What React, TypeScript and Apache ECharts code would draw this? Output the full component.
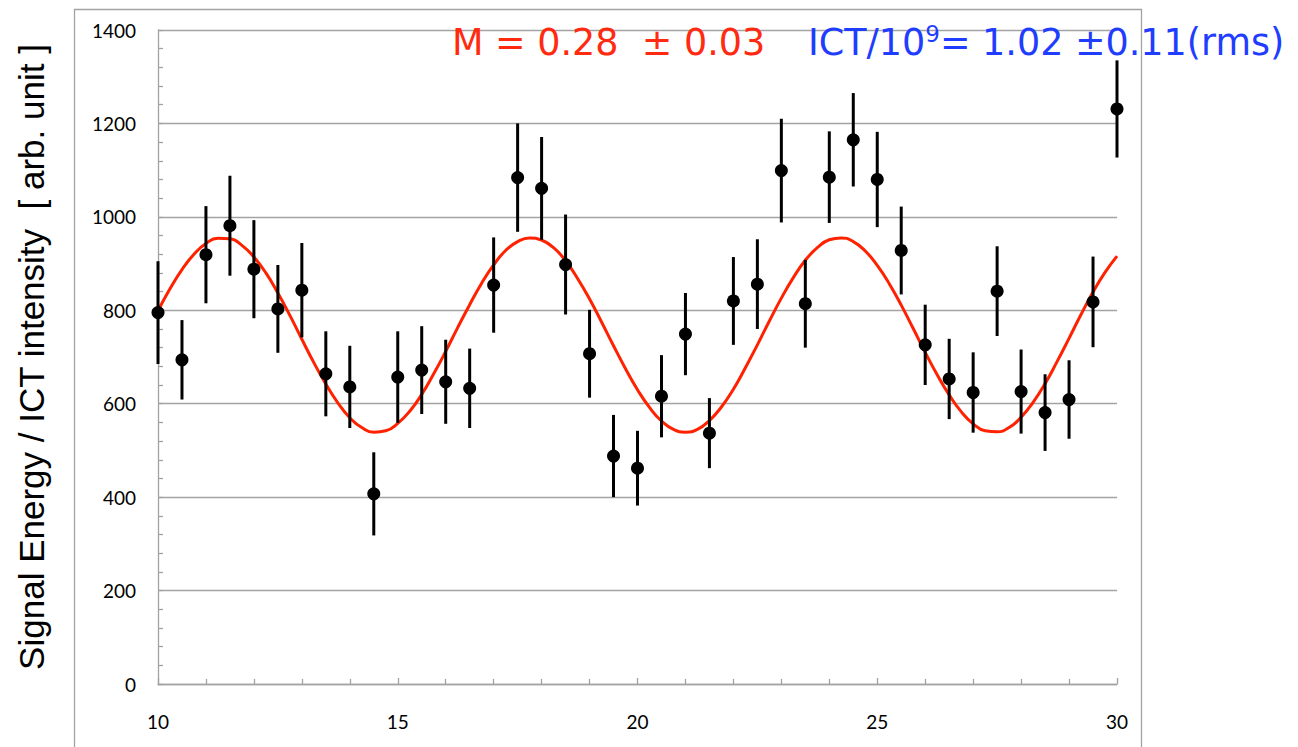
import React, { useEffect, useRef } from "react";
import * as echarts from "echarts";

// measured x positions
const xPos = [10, 10.5, 11, 11.5, 12, 12.5, 13, 13.5, 14, 14.5, 15, 15.5, 16, 16.5, 17, 17.5, 18, 18.5, 19, 19.5, 20, 20.5, 21, 21.5, 22, 22.5, 23, 23.5, 24, 24.5, 25, 25.5, 26, 26.5, 27, 27.5, 28, 28.5, 29, 29.5, 30];
// signal energy / ICT intensity
const values = [795, 694, 919, 981, 888, 803, 843, 664, 636, 407, 657, 672, 647, 633, 854, 1084, 1061, 898, 707, 488, 462, 616, 749, 537, 820, 856, 1099, 814, 1085, 1165, 1080, 928, 726, 653, 624, 841, 626, 581, 609, 818, 1231];
// error bar half-lengths
const errors = [110, 85, 104, 107, 105, 94, 101, 91, 88, 89, 98, 94, 90, 85, 102, 116, 110, 107, 94, 88, 80, 88, 88, 75, 94, 96, 111, 94, 98, 100, 102, 94, 86, 86, 86, 96, 90, 82, 84, 97, 104];
// fitted curve
const fitX = [10, 10.25, 10.5, 10.75, 11, 11.25, 11.5, 11.75, 12, 12.25, 12.5, 12.75, 13, 13.25, 13.5, 13.75, 14, 14.25, 14.5, 14.75, 15, 15.25, 15.5, 15.75, 16, 16.25, 16.5, 16.75, 17, 17.25, 17.5, 17.75, 18, 18.25, 18.5, 18.75, 19, 19.25, 19.5, 19.75, 20, 20.25, 20.5, 20.75, 21, 21.25, 21.5, 21.75, 22, 22.25, 22.5, 22.75, 23, 23.25, 23.5, 23.75, 24, 24.25, 24.5, 24.75, 25, 25.25, 25.5, 25.75, 26, 26.25, 26.5, 26.75, 27, 27.25, 27.5, 27.75, 28, 28.25, 28.5, 28.75, 29, 29.25, 29.5, 29.75, 30];
const fitY = [799, 846, 887, 920, 943, 954, 953, 939, 914, 880, 837, 789, 738, 688, 642, 602, 570, 549, 539, 542, 558, 584, 620, 664, 712, 763, 812, 858, 897, 928, 947, 955, 950, 934, 906, 868, 824, 775, 724, 675, 630, 592, 563, 545, 539, 545, 564, 593, 631, 677, 726, 777, 826, 870, 907, 934, 951, 955, 947, 927, 896, 857, 811, 761, 710, 662, 619, 583, 557, 542, 540, 549, 571, 603, 643, 690, 740, 791, 839, 881, 916];

const yTitle = "Signal Energy / ICT intensity  [ arb. unit ]";
const redLabel = "M = 0.28  ± 0.03";

export default function App() {
  const ref = useRef<HTMLDivElement>(null);
  useEffect(() => {
    document.body.style.margin = "0";
    const chart = echarts.init(ref.current!, null, { renderer: "svg" });
    const gray = "#a3a3a3";
    const labelFont = { fontFamily: "Lato", fontSize: 19, color: "#000" };
    chart.setOption({
      animation: false,
      grid: { left: 158, right: 181, top: 30, bottom: 63, containLabel: false },
      xAxis: {
        type: "value",
        min: 10,
        max: 30,
        interval: 5,
        axisLine: { show: true, lineStyle: { color: gray, width: 1.3 } },
        axisTick: { show: true, inside: true, length: 6, lineStyle: { color: gray, width: 1.3 } },
        minorTick: { show: true, splitNumber: 5, length: 5, lineStyle: { color: gray, width: 1.3 } },
        splitLine: { show: false },
        axisLabel: { ...labelFont, margin: 28, formatter: (v: number) => String(v) },
      },
      yAxis: {
        type: "value",
        min: 0,
        max: 1400,
        interval: 200,
        axisLine: { show: true, lineStyle: { color: gray, width: 1.3 } },
        axisTick: { show: true, inside: true, length: 5, lineStyle: { color: gray, width: 1.3 } },
        minorTick: { show: true, splitNumber: 5, length: 5, lineStyle: { color: gray, width: 1.3 } },
        splitLine: { show: true, lineStyle: { color: gray, width: 1.3 } },
        axisLabel: { ...labelFont, margin: 22, formatter: (v: number) => String(v) },
      },
      graphic: [
        {
          type: "rect",
          silent: true,
          z: -10,
          shape: { x: 74.5, y: 9.5, width: 1067, height: 800 },
          style: { fill: "none", stroke: gray, lineWidth: 1.3 },
        },
        {
          type: "text",
          x: 31,
          y: 357,
          rotation: Math.PI / 2,
          style: {
            text: yTitle,
            fontFamily: "Liberation Sans",
            fontSize: 35,
            fill: "#000",
            align: "center",
            verticalAlign: "middle",
          },
        },
        {
          type: "text",
          x: 452,
          y: 42,
          z: 100,
          style: {
            text: redLabel,
            fontFamily: "DejaVu Sans",
            fontSize: 36.5,
            fill: "#ff2a10",
            align: "left",
            verticalAlign: "middle",
          },
        },
        {
          type: "text",
          x: 808,
          y: 42,
          z: 100,
          style: {
            text: "{a|ICT/10}{s|9}{a|= 1.02 ±0.11(rms)}",
            fontFamily: "DejaVu Sans",
            fill: "#1f3dff",
            align: "left",
            verticalAlign: "middle",
            rich: {
              a: { fontFamily: "DejaVu Sans", fontSize: 36.5, fill: "#1f3dff", lineHeight: 40 },
              s: { fontFamily: "DejaVu Sans", fontSize: 23, fill: "#1f3dff", lineHeight: 40, verticalAlign: "top" },
            },
          },
        },
      ],
      series: [
        {
          type: "line",
          data: fitX.map((x, i) => [x, fitY[i]]),
          showSymbol: false,
          smooth: true,
          lineStyle: { color: "#ff2200", width: 3 },
          z: 2,
          silent: true,
        },
        {
          type: "custom",
          data: xPos.map((x, i) => [x, values[i] - errors[i], values[i] + errors[i]]),
          renderItem: (params: any, api: any) => {
            const p1 = api.coord([api.value(0), api.value(1)]);
            const p2 = api.coord([api.value(0), api.value(2)]);
            return {
              type: "line",
              shape: { x1: p1[0], y1: p1[1], x2: p2[0], y2: p2[1] },
              style: { stroke: "#000", lineWidth: 3 },
            };
          },
          z: 3,
          silent: true,
        },
        {
          type: "scatter",
          data: xPos.map((x, i) => [x, values[i]]),
          symbol: "circle",
          symbolSize: 13,
          itemStyle: { color: "#000", opacity: 1 },
          z: 4,
          silent: true,
        },
      ],
    });
    return () => chart.dispose();
  }, []);
  return <div ref={ref} style={{ width: 1298, height: 747 }} />;
}
